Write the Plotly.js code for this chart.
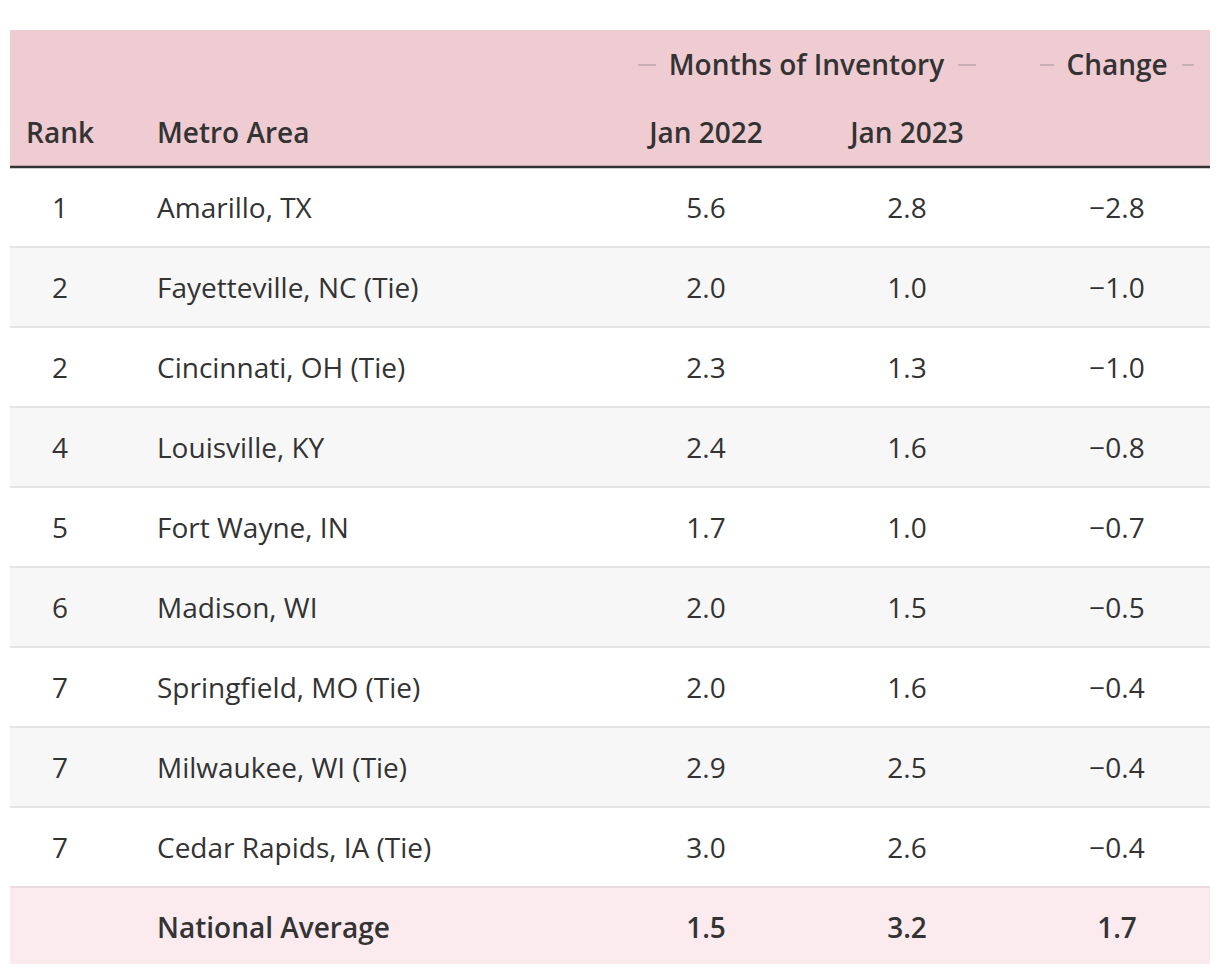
<!DOCTYPE html>
<html><head><meta charset="utf-8">
<script src="https://cdn.plot.ly/plotly-3.0.1.min.js"></script>
<style>html,body{margin:0;padding:0;background:#fff;overflow:hidden}</style>
</head><body><div id="chart" style="width:1220px;height:974px"></div>
<script>
// ---- data ----
const ranks = ["1", "2", "2", "4", "5", "6", "7", "7", "7"];
const metros = ["Amarillo, TX", "Fayetteville, NC (Tie)", "Cincinnati, OH (Tie)", "Louisville, KY",
  "Fort Wayne, IN", "Madison, WI", "Springfield, MO (Tie)", "Milwaukee, WI (Tie)", "Cedar Rapids, IA (Tie)"];
const jan2022 = [5.6, 2.0, 2.3, 2.4, 1.7, 2.0, 2.0, 2.9, 3.0];
const jan2023 = [2.8, 1.0, 1.3, 1.6, 1.0, 1.5, 1.6, 2.5, 2.6];
const change = [-2.8, -1.0, -1.0, -0.8, -0.7, -0.5, -0.4, -0.4, -0.4];
const nationalLabel = "National Average";
const nationalValues = [1.5, 3.2, 1.7];
const columnLabels = ["Rank", "Metro Area", "Jan 2022", "Jan 2023"];
const spannerLabels = ["Months of Inventory", "Change"];

// ---- layout constants ----
const W = 1220, H = 974;
const ROW_PX = 80, FIRST_CENTER = 207;
const toY = px => (px - FIRST_CENTER) / ROW_PX;
const TDY = 3.5 / ROW_PX; // small downward nudge for text baseline
const X_RANK = 60, X_METRO = 157, X_J22 = 706, X_J23 = 907, X_CHG = 1117;
const TABLE_L = 10, TABLE_R = 1210;
const TEXT = "#333333";
const FONT = "Open Sans";
const FS = 28;

const fmt = v => v.toFixed(1).replace("-", "\u2212");
const nRows = metros.length;
const rowIdx = metros.map((_, i) => i);
const rowY = rowIdx.map(i => i + TDY);
const natIdx = nRows;

function textTrace(xs, ys, texts, pos, weight) {
  return {
    type: "scatter", mode: "text", x: xs, y: ys, text: texts,
    textposition: pos, hoverinfo: "skip", cliponaxis: false,
    textfont: {family: FONT, size: FS, color: TEXT, weight: weight || 400}
  };
}

const BOLD = 600;
const traces = [
  textTrace(rowIdx.map(() => X_RANK), rowY, ranks, "middle center"),
  textTrace(rowIdx.map(() => X_METRO), rowY, metros, "middle right"),
  textTrace(rowIdx.map(() => X_J22), rowY, jan2022.map(fmt), "middle center"),
  textTrace(rowIdx.map(() => X_J23), rowY, jan2023.map(fmt), "middle center"),
  textTrace(rowIdx.map(() => X_CHG), rowY, change.map(fmt), "middle center"),
  // national average row
  textTrace([X_METRO], [natIdx + TDY], [nationalLabel], "middle right", BOLD),
  textTrace([X_J22, X_J23, X_CHG], [natIdx + TDY, natIdx + TDY, natIdx + TDY], nationalValues.map(fmt), "middle center", BOLD),
  // column labels
  textTrace([X_RANK, X_J22, X_J23], [toY(132) + TDY, toY(132) + TDY, toY(132) + TDY],
    [columnLabels[0], columnLabels[2], columnLabels[3]], "middle center", BOLD),
  textTrace([X_METRO], [toY(132) + TDY], [columnLabels[1]], "middle right", BOLD),
  // spanners
  textTrace([(X_J22 + X_J23) / 2, X_CHG], [toY(64) + TDY, toY(64) + TDY], spannerLabels, "middle center", BOLD)
];

const shapes = [];
function rect(y0, y1, color) {
  shapes.push({type: "rect", xref: "x", yref: "y", x0: TABLE_L, x1: TABLE_R, y0: y0, y1: y1,
    fillcolor: color, line: {width: 0}, layer: "below"});
}
function hline(y, color, w, x0, x1) {
  shapes.push({type: "line", xref: "x", yref: "y", x0: x0 === undefined ? TABLE_L : x0,
    x1: x1 === undefined ? TABLE_R : x1, y0: y, y1: y, line: {color: color, width: w}, layer: "below"});
}
// header
rect(toY(30), toY(166), "#EFCBD2");
// zebra stripes
rowIdx.forEach(i => { if (i % 2 === 1) rect(i - 0.5, i + 0.5, "#F7F7F7"); });
// separators
rowIdx.slice(0, nRows - 1).forEach(i => hline(i + 0.5, "#E4E4E4", 2));
// national row
rect(natIdx - 0.5, toY(964), "#FBEBEF");
hline(natIdx - 0.5, "#EBDADF", 2);
// header bottom rule
hline(-0.5, "#333333", 2.5);
// spanner dashes
const dashY = toY(65);
[[638, 656], [958, 976], [1040, 1054], [1182, 1194]].forEach(d => hline(dashY, "#B9A6AB", 1.5, d[0], d[1]));

const layout = {
  width: W, height: H,
  margin: {l: 0, r: 0, t: 0, b: 0, pad: 0},
  paper_bgcolor: "#ffffff", plot_bgcolor: "#ffffff",
  showlegend: false,
  xaxis: {range: [0, W], visible: false, fixedrange: true},
  yaxis: {range: [toY(H), toY(0)], visible: false, fixedrange: true},
  shapes: shapes,
  font: {family: FONT, color: TEXT}
};

Plotly.newPlot("chart", traces, layout, {staticPlot: true, displayModeBar: false});
</script>
</body></html>
